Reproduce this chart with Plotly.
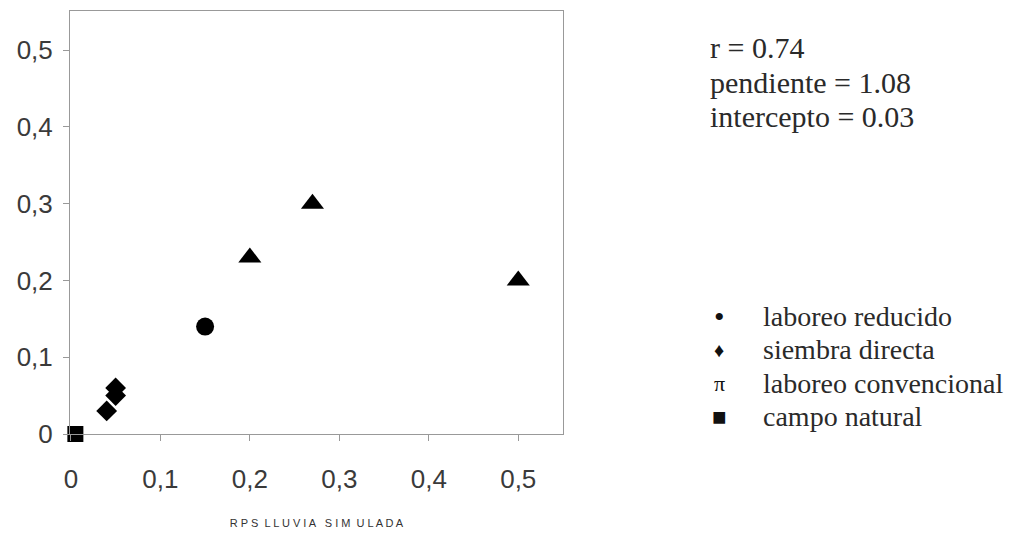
import plotly.graph_objects as go

# Sediment loss (RPS) under simulated rain vs. measured, by tillage system
reducido_x = [0.15]
reducido_y = [0.14]
directa_x = [0.04, 0.05, 0.05]
directa_y = [0.03, 0.05, 0.06]
convencional_x = [0.2, 0.27, 0.5]
convencional_y = [0.23, 0.30, 0.2]
natural_x = [0.005]
natural_y = [0.0]

tick_vals = [0, 0.1, 0.2, 0.3, 0.4, 0.5]
tick_text = ["0", "0,1", "0,2", "0,3", "0,4", "0,5"]

stats_lines = ["r = 0.74", "pendiente = 1.08", "intercepto = 0.03"]
legend_symbols = ["•", "♦", "π", "■"]
legend_labels = ["laboreo reducido", "siembra directa",
                 "laboreo convencional", "campo natural"]

W, H = 1009, 536
L, R, T, B = 70, 1009 - 563, 11, 536 - 434
pw, ph = W - L - R, H - T - B


def px(x):
    return (x - L) / pw


def py(y):
    return 1 - (y - T) / ph


fig = go.Figure()

series = [
    (reducido_x, reducido_y, "circle", 18),
    (directa_x, directa_y, "diamond", 16),
    (convencional_x, convencional_y, "triangle-up", 20),
    (natural_x, natural_y, "square", 16),
]
for xs, ys, sym, size in series:
    fig.add_trace(go.Scatter(
        x=xs, y=ys, mode="markers", cliponaxis=False, showlegend=False,
        marker=dict(symbol=sym, size=size, color="black", line=dict(width=0)),
    ))

axis_common = dict(
    showgrid=False, zeroline=False, showline=True, linecolor="#999999",
    linewidth=1, mirror=True, ticks="outside", ticklen=6, tickcolor="#999999",
    tickvals=tick_vals, ticktext=tick_text, automargin=False,
    tickfont=dict(family="Liberation Sans, Arial", size=26, color="#3a3a3a"),
)

fig.update_xaxes(range=[-0.001, 0.55], **axis_common, ticklabelstandoff=16,
                 title=dict(text="R P S  L L U V I A   S I M  U L A D A",
                            font=dict(family="Liberation Sans, Arial", size=11,
                                      color="#333333"),
                            standoff=26))
fig.update_yaxes(range=[0, 0.551], **axis_common, ticklabelstandoff=5)

serif = "Liberation Serif, Times New Roman"

# regression statistics block
for i, line in enumerate(stats_lines):
    fig.add_annotation(
        x=px(708), y=py(47 + 35 * i), xref="paper", yref="paper", text=line,
        showarrow=False, xanchor="left", yanchor="middle",
        font=dict(family=serif, size=30, color="#2a2a2a"),
    )

# symbol key
sym_sizes = {"•": 30, "♦": 20, "π": 22, "■": 24}
for i, (sym, lab) in enumerate(zip(legend_symbols, legend_labels)):
    yrow = 316 + 33.5 * i
    fig.add_annotation(
        x=px(719), y=py(yrow), xref="paper", yref="paper", text=sym,
        showarrow=False, xanchor="center", yanchor="middle",
        font=dict(family=serif, size=sym_sizes[sym], color="#111111"),
    )
    fig.add_annotation(
        x=px(761), y=py(yrow), xref="paper", yref="paper", text=lab,
        showarrow=False, xanchor="left", yanchor="middle",
        font=dict(family=serif, size=28, color="#2a2a2a"),
    )

fig.update_layout(
    width=W, height=H, margin=dict(l=L, r=R, t=T, b=B),
    plot_bgcolor="white", paper_bgcolor="white",
)

fig.write_html("out.html")
